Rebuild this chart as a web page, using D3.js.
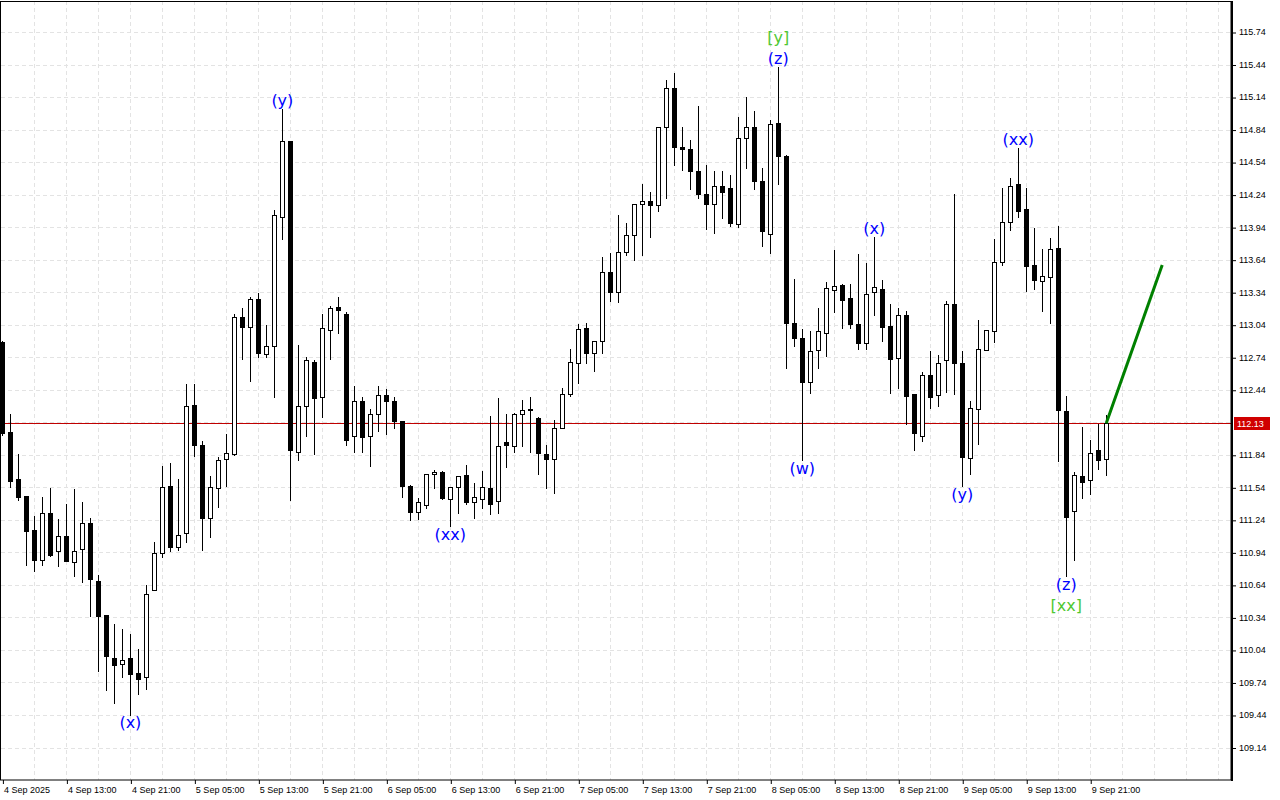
<!DOCTYPE html>
<html>
<head>
<meta charset="utf-8">
<script src="https://cdn.jsdelivr.net/npm/d3@7"></script>
<style>
  html, body { margin: 0; padding: 0; background: #fff; }
  svg { display: block; }
  .axis text { font-family: "Liberation Sans", Arial, sans-serif; font-size: 9px; fill: #000; }
  .wave { font-family: "DejaVu Sans", Verdana, sans-serif; font-size: 16px; }
</style>
</head>
<body>
<svg width="1280" height="800"></svg>
<script>
// hourly bars, first bar = 4 Sep 2025 05:00
var opens  = [112.88,112.05,111.62,111.46,111.15,110.87,111.30,110.95,111.09,110.85,110.97,111.21,110.68,110.36,109.97,109.91,109.97,109.83,109.79,110.59,
              110.93,111.55,110.99,111.12,112.30,111.93,111.26,111.53,111.80,111.85,113.11,113.02,113.28,112.77,112.84,114.03,114.73,111.87,112.29,112.70,
              112.37,112.99,113.20,113.14,112.01,112.34,112.01,112.22,112.39,112.34,112.15,111.55,111.31,111.38,111.66,111.68,111.43,111.54,111.65,111.40,
              111.43,111.53,111.41,111.96,111.92,112.22,112.26,112.18,111.85,111.80,112.09,112.40,112.69,113.01,112.78,112.89,113.53,113.34,113.71,113.87,
              114.15,114.18,114.14,114.86,115.22,114.68,114.66,114.46,114.25,114.15,114.32,114.30,113.97,114.76,114.86,114.37,113.88,114.90,114.60,113.06,
              112.92,112.51,112.81,112.96,113.36,113.41,113.29,113.05,112.87,113.34,113.37,113.03,112.73,113.13,112.40,112.01,112.58,112.39,112.71,113.23,
              112.69,111.81,112.26,112.81,112.98,113.62,113.99,114.34,114.11,113.59,113.44,113.48,113.75,112.24,111.32,111.64,111.61,111.88,111.80];
var highs  = [112.89,112.22,111.85,111.46,111.28,111.45,111.53,111.25,111.39,111.52,111.40,111.26,110.73,110.36,110.28,110.23,110.19,110.05,110.64,111.04,
              111.74,111.76,111.62,112.49,112.49,111.97,111.64,111.82,112.03,113.14,113.19,113.30,113.33,113.04,114.10,115.03,114.73,112.85,112.74,112.71,
              113.14,113.21,113.30,113.16,112.47,112.37,112.26,112.47,112.45,112.37,112.15,111.56,111.44,111.66,111.70,111.69,111.54,111.64,111.75,111.58,
              111.69,112.20,112.36,112.22,112.23,112.35,112.37,112.19,111.93,112.16,112.46,112.82,113.05,113.06,112.89,113.66,113.70,114.05,113.98,114.15,
              114.34,114.26,114.86,115.30,115.36,114.86,114.74,115.06,114.51,114.46,114.46,114.42,114.96,115.14,115.01,114.49,114.93,115.42,114.61,113.46,
              113.00,112.98,113.19,113.43,113.73,113.42,113.42,113.69,113.61,113.85,113.45,113.23,113.19,113.17,112.40,112.60,112.80,112.76,113.26,114.25,
              112.80,112.34,113.08,112.99,113.83,114.30,114.39,114.67,114.30,113.93,113.74,113.84,113.95,112.38,111.68,112.10,111.98,112.12,112.21];
var lows   = [112.02,111.54,111.42,110.82,110.77,110.82,110.91,110.81,110.86,110.72,110.67,110.35,109.85,109.67,109.55,109.79,109.44,109.63,109.68,110.59,
              110.90,110.95,110.96,111.04,111.83,110.96,111.08,111.36,111.55,111.84,112.72,112.52,112.74,112.74,112.37,113.83,111.42,111.79,112.01,111.85,
              112.19,112.72,112.96,111.93,111.87,111.87,111.74,112.06,112.03,112.09,111.45,111.24,111.25,111.35,111.53,111.43,111.18,111.30,111.39,111.26,
              111.35,111.29,111.30,111.73,111.87,111.92,111.87,111.66,111.53,111.49,112.09,112.38,112.50,112.69,112.61,112.78,113.26,113.25,113.68,113.64,
              113.68,113.85,114.09,114.21,114.51,114.47,114.29,114.21,113.92,113.89,114.02,113.95,113.94,114.49,114.29,113.77,113.70,114.34,112.64,112.84,
              111.79,112.41,112.64,112.75,113.16,113.01,113.01,112.82,112.82,113.13,112.89,112.41,112.46,112.12,111.88,111.97,112.27,112.29,112.42,112.40,
              111.55,111.66,111.94,112.81,112.88,113.59,113.91,114.03,113.35,113.37,113.17,113.06,111.78,110.72,110.87,111.44,111.48,111.71,111.65];
var closes = [112.04,111.60,111.45,111.14,110.87,111.30,110.92,111.09,110.86,110.95,111.21,110.69,110.35,109.98,109.90,109.95,109.82,109.77,110.56,110.93,
              111.54,110.99,111.10,112.29,111.93,111.26,111.54,111.79,111.86,113.11,113.02,113.28,112.78,112.84,114.05,114.73,111.88,112.29,112.71,112.36,
              113.01,113.19,113.18,111.98,112.34,112.00,112.22,112.39,112.34,112.15,111.55,111.31,111.40,111.66,111.68,111.44,111.54,111.64,111.40,111.45,
              111.54,111.39,111.92,111.93,112.22,112.25,112.25,111.86,111.80,112.09,112.40,112.70,113.00,112.78,112.89,113.53,113.34,113.71,113.87,114.15,
              114.18,114.14,114.86,115.22,114.68,114.66,114.46,114.25,114.15,114.32,114.26,113.98,114.76,114.86,114.37,113.90,114.89,114.60,113.06,112.92,
              112.51,112.80,112.98,113.38,113.40,113.27,113.05,112.87,113.32,113.39,113.02,112.72,113.13,112.38,112.04,112.58,112.37,112.69,113.23,112.69,
              111.82,112.27,112.82,112.99,113.62,113.99,114.32,114.09,113.58,113.45,113.49,113.74,112.25,111.27,111.65,111.59,111.86,111.79,112.13];

var lastPrice = 112.13;

// price axis ticks
var priceTicks = [115.74,115.44,115.14,114.84,114.54,114.24,113.94,113.64,113.34,113.04,112.74,112.44,
                  111.84,111.54,111.24,110.94,110.64,110.34,110.04,109.74,109.44,109.14];

// time axis: label every 8 bars
var timeTickBars = [0,8,16,24,32,40,48,56,64,72,80,88,96,104,112,120,128,136];
var timeLabels = ["4 Sep 2025","4 Sep 13:00","4 Sep 21:00","5 Sep 05:00","5 Sep 13:00","5 Sep 21:00",
                  "6 Sep 05:00","6 Sep 13:00","6 Sep 21:00","7 Sep 05:00","7 Sep 13:00","7 Sep 21:00",
                  "8 Sep 05:00","8 Sep 13:00","8 Sep 21:00","9 Sep 05:00","9 Sep 13:00","9 Sep 21:00"];

// wave marks: text, bar index, above/below, stack level, colour
var waveText  = ["(x)","(y)","(xx)","(z)","[y]","(w)","(x)","(y)","(xx)","(z)","[xx]"];
var waveBar   = [16, 35, 56, 97, 97, 100, 109, 120, 127, 133, 133];
var waveSide  = ["below","above","below","above","above","below","above","below","above","below","below"];
var waveLevel = [0, 0, 0, 0, 1, 0, 0, 0, 0, 0, 1];
var waveColor = ["#0000ff","#0000ff","#0000ff","#0000ff","#4ec832","#0000ff","#0000ff","#0000ff","#0000ff","#0000ff","#4ec832"];

// projected move
var forecastBars   = [138, 145];
var forecastPrices = [112.13, 113.59];

var bars = opens.map(function (o, i) {
    return {i: i, o: o, h: highs[i], l: lows[i], c: closes[i]};
});

var plotLeft = 1, plotTop = 1, plotRight = 1231, plotBottom = 780;

var svg = d3.select("svg");

var x = d3.scaleLinear().domain([-0.3, 153.6]).range([0, 1231]);
var y = d3.scaleLinear().domain([109.14, 115.74]).range([747.5, 32]);

function px(v) { return Math.round(v) + 0.5; }

svg.append("defs").append("clipPath").attr("id", "plotclip")
   .append("rect")
   .attr("x", plotLeft).attr("y", plotTop)
   .attr("width", plotRight - plotLeft).attr("height", plotBottom - plotTop);

// grid
var grid = svg.append("g").attr("class", "grid");
var gridBars = d3.range(4, 154, 4);
grid.selectAll("line.v")
    .data(gridBars)
    .enter().append("line")
    .attr("class", "v")
    .attr("x1", d => px(x(d))).attr("x2", d => px(x(d)))
    .attr("y1", plotTop).attr("y2", plotBottom)
    .style("stroke", "#e3e3e3").style("stroke-dasharray", "4,3");
grid.selectAll("line.h")
    .data(priceTicks.concat([112.14]))
    .enter().append("line")
    .attr("class", "h")
    .attr("x1", plotLeft).attr("x2", plotRight)
    .attr("y1", d => px(y(d))).attr("y2", d => px(y(d)))
    .style("stroke", "#e3e3e3").style("stroke-dasharray", "4,3");

var plot = svg.append("g").attr("clip-path", "url(#plotclip)");

// last price line
plot.append("line")
    .attr("x1", plotLeft).attr("x2", plotRight)
    .attr("y1", px(y(lastPrice))).attr("y2", px(y(lastPrice)))
    .style("stroke", "#c00000").style("stroke-width", 1);

// candles
var candle = plot.selectAll("g.candle")
    .data(bars)
    .enter().append("g")
    .attr("class", "candle");

candle.append("line")
      .attr("x1", d => px(x(d.i))).attr("x2", d => px(x(d.i)))
      .attr("y1", d => Math.round(y(d.h))).attr("y2", d => Math.round(y(d.l)) + 1)
      .style("stroke", "#000").style("stroke-width", 1);

candle.append("rect")
      .attr("x", d => px(x(d.i)) - 2)
      .attr("width", 4)
      .attr("y", d => px(y(Math.max(d.o, d.c))))
      .attr("height", d => Math.max(0, Math.round(y(Math.min(d.o, d.c))) - Math.round(y(Math.max(d.o, d.c)))))
      .style("fill", d => d.c < d.o ? "#000" : "#fff")
      .style("stroke", "#000").style("stroke-width", 1);

// forecast line
plot.append("line")
    .attr("x1", x(forecastBars[0])).attr("y1", y(forecastPrices[0]))
    .attr("x2", x(forecastBars[1])).attr("y2", y(forecastPrices[1]))
    .style("stroke", "#008000").style("stroke-width", 3);

// wave labels
plot.selectAll("text.wave")
    .data(waveText)
    .enter().append("text")
    .attr("class", "wave")
    .attr("x", (d, k) => x(waveBar[k]))
    .attr("y", function (d, k) {
        var b = bars[waveBar[k]];
        var off = 8 + waveLevel[k] * 21;
        return waveSide[k] == "above" ? y(b.h) - off : y(b.l) + off;
    })
    .attr("text-anchor", "middle")
    .attr("dominant-baseline", "central")
    .style("fill", (d, k) => waveColor[k])
    .text(d => d);

// frame
svg.append("rect")
   .attr("x", 0.5).attr("y", 1.5)
   .attr("width", plotRight - 0.5).attr("height", plotBottom - 1.5)
   .style("fill", "none").style("stroke", "#000");
svg.append("line")
   .attr("x1", plotRight + 1).attr("x2", plotRight + 1)
   .attr("y1", 1).attr("y2", plotBottom + 1)
   .style("stroke", "#000").style("stroke-width", 2);

// right price axis
var yAxis = svg.append("g")
   .attr("class", "axis")
   .attr("transform", "translate(" + (plotRight + 1) + ",0)")
   .call(d3.axisRight(y).tickValues(priceTicks).tickFormat(d3.format(".2f")).tickSize(4).tickPadding(3));
yAxis.select(".domain").remove();
yAxis.selectAll(".tick line").attr("transform", "translate(0,0.5)");

// last price tag
svg.append("rect")
   .attr("x", 1234).attr("y", Math.round(y(lastPrice)) - 6)
   .attr("width", 36).attr("height", 13)
   .style("fill", "#d00000");
svg.append("text")
   .attr("class", "axis")
   .attr("x", 1237).attr("y", y(lastPrice) + 0.5)
   .attr("dominant-baseline", "central")
   .style("font-family", "'Liberation Sans', Arial, sans-serif")
   .style("font-size", "9px")
   .style("fill", "#fff")
   .text(lastPrice.toFixed(2));

// bottom time axis
var xAxis = svg.append("g")
   .attr("class", "axis")
   .attr("transform", "translate(0," + plotBottom + ")")
   .call(d3.axisBottom(x).tickValues(timeTickBars).tickFormat((d, k) => timeLabels[k]).tickSize(4).tickPadding(3));
xAxis.select(".domain").remove();
xAxis.selectAll(".tick line").attr("transform", "translate(0.5,0)");
xAxis.selectAll(".tick text").attr("text-anchor", "start").attr("x", 1);
</script>
</body>
</html>
